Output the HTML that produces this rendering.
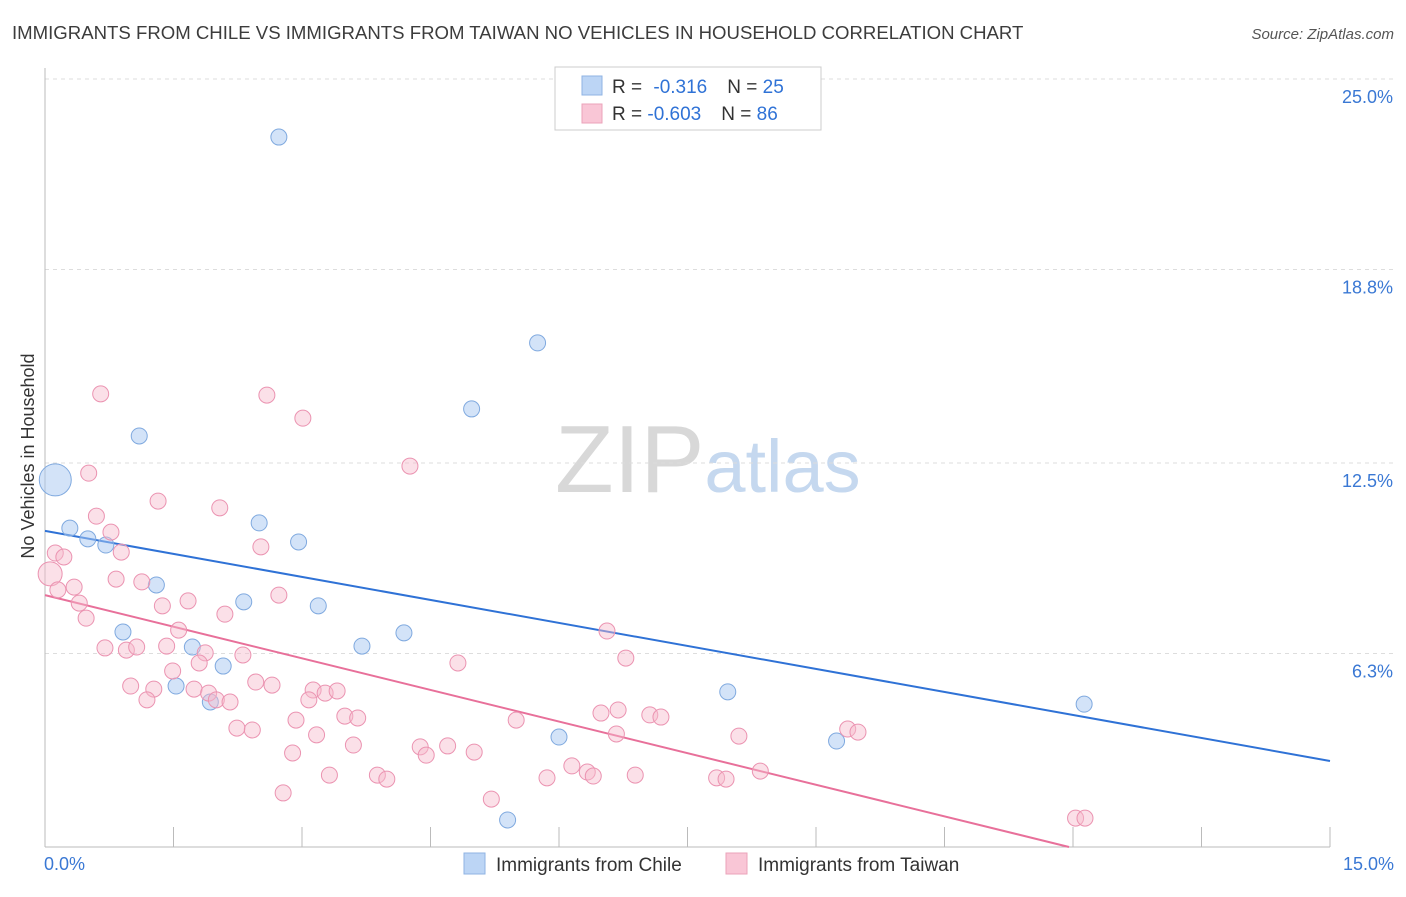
<!DOCTYPE html>
<html><head><meta charset="utf-8"><style>
body{margin:0;background:#fff;font-family:"Liberation Sans",sans-serif;}
svg text{font-family:"Liberation Sans",sans-serif;}
</style></head><body>
<svg id="chart" width="1406" height="892" viewBox="0 0 1406 892">
<text x="12" y="39" font-size="18.6" fill="#3c3c3c">IMMIGRANTS FROM CHILE VS IMMIGRANTS FROM TAIWAN NO VEHICLES IN HOUSEHOLD CORRELATION CHART</text>
<text x="1394" y="39" font-size="15" fill="#555" text-anchor="end" font-style="italic">Source: ZipAtlas.com</text>
<text x="555" y="492" font-size="96" fill="#d8d8d8" font-family="Liberation Serif">ZIP<tspan fill="#c5d8ef" font-family="Liberation Sans" font-size="74">atlas</tspan></text>
<text transform="translate(34,456) rotate(-90)" font-size="18" fill="#333" text-anchor="middle">No Vehicles in Household</text>
<g id="grid"></g><g id="axes"></g><g id="lines"></g><g id="points"></g>
<g>
<rect x="555" y="67" width="266" height="63" fill="#fff" stroke="#ccc"/>
<rect x="582" y="76" width="20" height="19" fill="#bcd5f5" stroke="#8fb3e3"/>
<rect x="582" y="104" width="20" height="19" fill="#f9c6d6" stroke="#eba3ba"/>
<text x="612" y="93" font-size="19" fill="#333">R = <tspan dx="6" fill="#2f72d6">-0.316</tspan><tspan dx="20">N = </tspan><tspan fill="#2f72d6">25</tspan></text>
<text x="612" y="120" font-size="19" fill="#333">R = <tspan fill="#2f72d6">-0.603</tspan><tspan dx="20">N = </tspan><tspan fill="#2f72d6">86</tspan></text>
</g>
<g>
<rect x="464" y="853" width="21" height="21" fill="#bcd5f5" stroke="#8fb3e3"/>
<text x="496" y="871" font-size="19" fill="#333">Immigrants from Chile</text>
<rect x="726" y="853" width="21" height="21" fill="#f9c6d6" stroke="#eba3ba"/>
<text x="758" y="871" font-size="19" fill="#333">Immigrants from Taiwan</text>
</g>
</svg>
<script>
const yTicks=[25.0,18.8,12.5,6.3];
const yTickLabels=["25.0%","18.8%","12.5%","6.3%"];
const xTicks=[0,1.5,3,4.5,6,7.5,9,10.5,12,13.5,15];
const xEndLabels=["0.0%","15.0%"];
const chileX=[2.73,5.75,4.98,1.10,0.12,0.29,0.50,0.71,2.50,2.96,1.30,2.32,3.19,0.91,1.72,2.08,1.53,1.93,3.70,4.19,7.97,12.13,6.00,9.24,5.40];
const chileY=[23.11,16.41,14.26,13.38,11.95,10.38,10.03,9.83,10.55,9.93,8.53,7.98,7.85,7.00,6.51,5.89,5.24,4.72,6.54,6.97,5.05,4.65,3.58,3.45,0.88];
const chileR=[8,8,8,8,16,8,8,8,8,8,8,8,8,8,8,8,8,8,8,8,8,8,8,8,8];
const taiwanX=[0.65,2.59,3.01,4.26,0.51,1.32,2.04,0.60,0.77,2.52,0.12,0.22,0.89,0.06,0.34,0.15,0.83,1.13,0.40,1.37,2.73,1.67,0.48,2.10,1.56,0.70,0.95,1.07,1.42,1.87,2.31,6.56,6.78,4.82,1.49,1.80,1.00,1.27,1.19,1.74,1.91,2.00,2.16,2.46,2.65,3.13,3.27,3.41,3.08,2.93,3.50,3.65,2.24,2.42,3.17,3.60,2.89,4.38,4.70,5.01,4.45,5.50,6.49,6.69,7.06,7.19,6.67,8.10,9.37,9.49,6.15,6.33,6.40,5.86,6.89,7.84,7.95,8.35,3.32,3.88,3.99,2.78,5.21,12.03,12.14];
const taiwanY=[14.75,14.71,13.96,12.40,12.17,11.26,11.04,10.77,10.25,9.77,9.57,9.44,9.60,8.89,8.46,8.37,8.72,8.63,7.94,7.85,8.20,8.01,7.45,7.58,7.06,6.48,6.41,6.51,6.54,6.32,6.25,7.03,6.15,5.99,5.73,5.99,5.24,5.14,4.79,5.14,5.01,4.79,4.72,5.37,5.27,5.11,5.01,5.08,4.79,4.13,4.26,4.20,3.87,3.81,3.65,3.32,3.06,3.26,3.29,3.09,2.99,4.13,4.36,4.46,4.30,4.23,3.68,3.61,3.84,3.74,2.64,2.44,2.31,2.25,2.34,2.25,2.21,2.47,2.34,2.34,2.21,1.76,1.56,0.94,0.94];
const chileTrend=[10.29,2.80];
const taiwanTrend=[8.20,-2.09];
const NS="http://www.w3.org/2000/svg";
const X0=45,X1=1330,Y0=847,YTOP=79;
const sx=v=>X0+(X1-X0)*v/15;
const sy=v=>Y0-(Y0-YTOP)*v/25;
function mk(tag,attrs,parent){const e=document.createElementNS(NS,tag);for(const k in attrs)e.setAttribute(k,attrs[k]);parent.appendChild(e);return e;}
const grid=document.getElementById('grid'),axes=document.getElementById('axes'),lines=document.getElementById('lines'),pts=document.getElementById('points');
yTicks.forEach((t,i)=>{
 const l=mk('line',{x1:X0,x2:1394,y1:sy(t),y2:sy(t),stroke:'#ddd','stroke-dasharray':'4,4'},grid);
 
 
 const tx=mk('text',{x:1393,y:sy(t)+24,'font-size':18,fill:'#3a78d4','text-anchor':'end'},axes);
 tx.textContent=yTickLabels[i];
 
 
});
const ya=mk('line',{x1:X0,x2:X0,y1:68,y2:Y0,stroke:'#bbb'},axes);


const xa=mk('line',{x1:X0,x2:X1,y1:Y0,y2:Y0,stroke:'#bbb'},axes);


xTicks.forEach(t=>{
 const l=mk('line',{x1:sx(t),x2:sx(t),y1:Y0,y2:Y0-20,stroke:'#bbb'},axes);
 
 
});
const xl0=mk('text',{x:44,y:870,'font-size':18,fill:'#3a78d4'},axes);xl0.textContent=xEndLabels[0];


const xl1=mk('text',{x:1394,y:870,'font-size':18,fill:'#3a78d4','text-anchor':'end'},axes);xl1.textContent=xEndLabels[1];


chileX.forEach((x,i)=>{
 const c=mk('circle',{cx:sx(x),cy:sy(chileY[i]),r:chileR[i],fill:'rgba(168,200,242,0.5)',stroke:'#7fa9df','stroke-width':1},pts);
 
 
});
taiwanX.forEach((x,i)=>{
 const r=(i===13)?12:8;
 const c=mk('circle',{cx:sx(x),cy:sy(taiwanY[i]),r:r,fill:'rgba(247,186,205,0.45)',stroke:'#eb93b1','stroke-width':1},pts);
 
 
});
const bl=mk('line',{x1:sx(0),y1:sy(chileTrend[0]),x2:sx(15),y2:sy(chileTrend[1]),stroke:'#2f72d6','stroke-width':2},lines);


const s=(taiwanTrend[1]-taiwanTrend[0])/15;const xz=-taiwanTrend[0]/s;
const pl=mk('line',{x1:sx(0),y1:sy(taiwanTrend[0]),x2:sx(xz),y2:sy(0),stroke:'#e8709a','stroke-width':2},lines);


</script>
</body></html>
